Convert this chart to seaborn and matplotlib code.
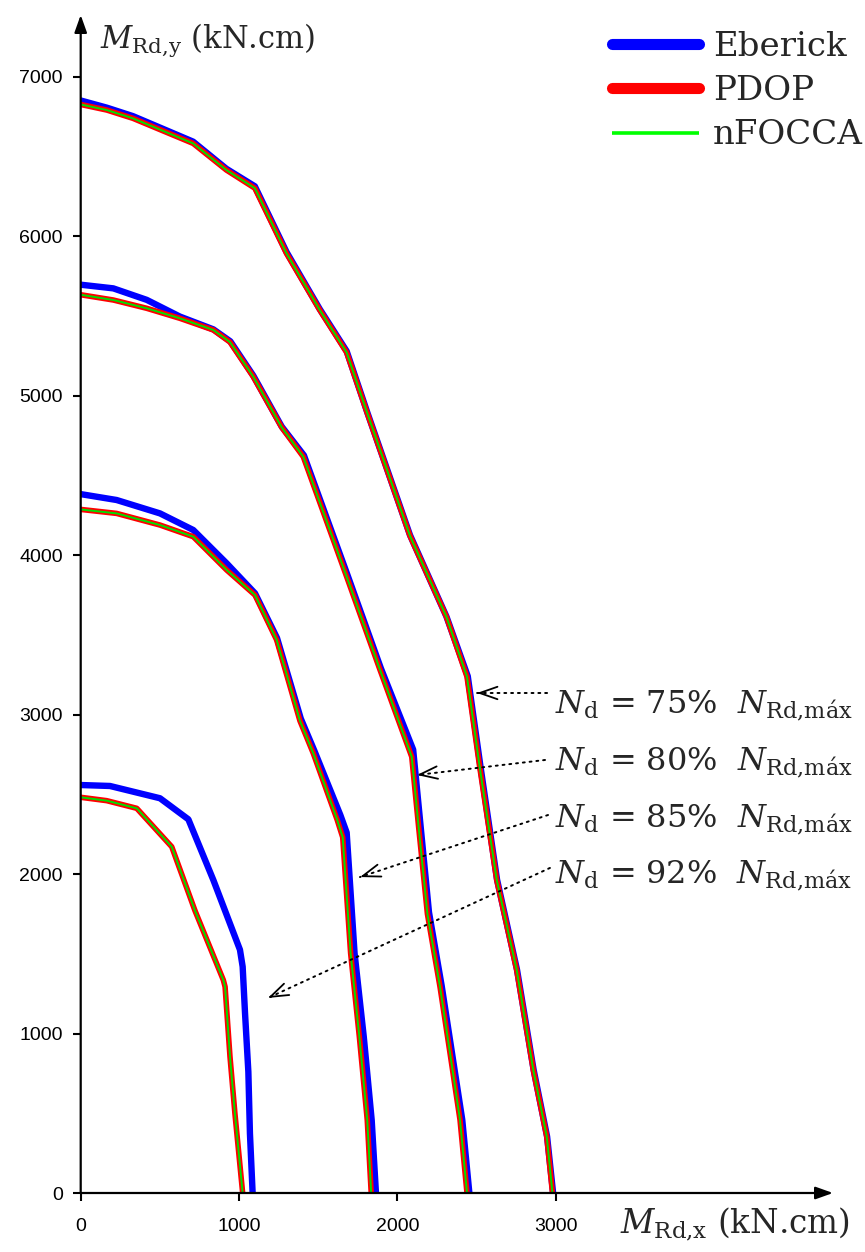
import matplotlib
matplotlib.use("Agg")
import matplotlib.pyplot as plt
from matplotlib.lines import Line2D
import numpy as np
import pandas as pd
import seaborn as sns

# ---------------- interaction curves (kN.cm) ----------------
# Nd = 75% NRd,max
eberick_75_x = [0, 165, 330, 710, 920, 1100, 1300, 1510, 1680, 1810, 2080, 2310, 2445, 2525, 2630, 2756, 2861, 2946, 2984]
eberick_75_y = [6850, 6805, 6752, 6592, 6422, 6312, 5900, 5542, 5278, 4895, 4125, 3615, 3240, 2676, 1964, 1400, 772, 354, 0]
pdop_75_x = [0, 165, 330, 710, 920, 1100, 1300, 1510, 1680, 1810, 2080, 2310, 2440, 2520, 2628, 2754, 2859, 2944, 2980]
pdop_75_y = [6825, 6790, 6738, 6581, 6414, 6300, 5891, 5536, 5270, 4890, 4120, 3613, 3237, 2673, 1962, 1398, 771, 353, 0]
nfocca_75_x = [0, 165, 330, 710, 920, 1100, 1300, 1510, 1680, 1810, 2080, 2310, 2440, 2520, 2628, 2754, 2859, 2944, 2980]
nfocca_75_y = [6825, 6790, 6738, 6581, 6414, 6300, 5891, 5536, 5270, 4890, 4120, 3613, 3237, 2673, 1962, 1398, 771, 353, 0]

# Nd = 80% NRd,max
eberick_80_x = [0, 206, 417, 627, 838, 945, 1090, 1270, 1410, 1685, 1896, 2100, 2150, 2200, 2280, 2345, 2410, 2455]
eberick_80_y = [5695, 5672, 5600, 5495, 5415, 5340, 5125, 4805, 4625, 3875, 3290, 2780, 2270, 1760, 1300, 880, 460, 0]
pdop_80_x = [0, 206, 417, 627, 838, 943, 1090, 1270, 1406, 1680, 1891, 2091, 2135, 2190, 2270, 2333, 2396, 2440]
pdop_80_y = [5632, 5599, 5547, 5484, 5411, 5335, 5118, 4800, 4616, 3864, 3279, 2735, 2290, 1750, 1290, 876, 458, 0]
nfocca_80_x = [0, 206, 417, 627, 838, 943, 1090, 1270, 1406, 1680, 1891, 2091, 2135, 2190, 2270, 2333, 2396, 2440]
nfocca_80_y = [5632, 5599, 5547, 5484, 5411, 5335, 5118, 4800, 4616, 3864, 3279, 2735, 2290, 1750, 1290, 876, 458, 0]

# Nd = 85% NRd,max
eberick_85_x = [0, 227, 501, 711, 922, 1101, 1240, 1390, 1475, 1640, 1680, 1730, 1788, 1838, 1865]
eberick_85_y = [4382, 4345, 4261, 4157, 3948, 3760, 3480, 2975, 2775, 2370, 2260, 1503, 980, 458, 0]
pdop_85_x = [0, 227, 501, 711, 922, 1101, 1238, 1385, 1469, 1620, 1655, 1705, 1760, 1810, 1835]
pdop_85_y = [4286, 4261, 4188, 4115, 3906, 3749, 3467, 2960, 2757, 2340, 2230, 1503, 980, 458, 0]
nfocca_85_x = [0, 227, 501, 711, 922, 1101, 1238, 1385, 1469, 1620, 1655, 1705, 1760, 1810, 1835]
nfocca_85_y = [4286, 4261, 4188, 4115, 3906, 3749, 3467, 2960, 2757, 2340, 2230, 1503, 980, 458, 0]

# Nd = 92% NRd,max
eberick_92_x = [0, 185, 501, 680, 838, 1006, 1023, 1038, 1059, 1069, 1086]
eberick_92_y = [2558, 2552, 2475, 2343, 1962, 1525, 1419, 1127, 760, 374, 0]
pdop_92_x = [0, 164, 354, 575, 722, 901, 912, 943, 974, 1023]
pdop_92_y = [2481, 2460, 2412, 2171, 1770, 1335, 1293, 855, 500, 0]
nfocca_92_x = [0, 164, 354, 575, 722, 901, 912, 943, 974, 1023]
nfocca_92_y = [2481, 2460, 2412, 2171, 1770, 1335, 1293, 855, 500, 0]

levels = ["75%", "80%", "85%", "92%"]
methods = ["Eberick", "PDOP", "nFOCCA"]
x_ticks = [0, 1000, 2000, 3000]
y_ticks = [0, 1000, 2000, 3000, 4000, 5000, 6000, 7000]

curves = {
    ("Eberick", "75%"): (eberick_75_x, eberick_75_y),
    ("Eberick", "80%"): (eberick_80_x, eberick_80_y),
    ("Eberick", "85%"): (eberick_85_x, eberick_85_y),
    ("Eberick", "92%"): (eberick_92_x, eberick_92_y),
    ("PDOP", "75%"): (pdop_75_x, pdop_75_y),
    ("PDOP", "80%"): (pdop_80_x, pdop_80_y),
    ("PDOP", "85%"): (pdop_85_x, pdop_85_y),
    ("PDOP", "92%"): (pdop_92_x, pdop_92_y),
    ("nFOCCA", "75%"): (nfocca_75_x, nfocca_75_y),
    ("nFOCCA", "80%"): (nfocca_80_x, nfocca_80_y),
    ("nFOCCA", "85%"): (nfocca_85_x, nfocca_85_y),
    ("nFOCCA", "92%"): (nfocca_92_x, nfocca_92_y),
}
rows = []
for (m, lv), (xs, ys) in curves.items():
    for i, (xv, yv) in enumerate(zip(xs, ys)):
        rows.append({"method": m, "level": lv, "order": i, "MRdx": xv, "MRdy": yv})
df = pd.DataFrame(rows)

# ---------------- styling ----------------
sns.set_theme(style="white")
plt.rcParams["font.family"] = ["DejaVu Serif"]
plt.rcParams["mathtext.fontset"] = "dejavuserif"

colors = {"Eberick": "#0000FF", "PDOP": "#FF0000", "nFOCCA": "#00E000"}
widths = {"Eberick": 4.6, "PDOP": 4.0, "nFOCCA": 1.4}

fig = plt.figure(figsize=(8.65, 12.52), dpi=100)
W, H = 865.0, 1252.0
x0_px, y0_px, xend_px, ytop_px = 80.7, 1193.0, 833.0, 15.0
ax = fig.add_axes([x0_px / W, (H - y0_px) / H, (xend_px - x0_px) / W, (y0_px - ytop_px) / H])

for m in methods:
    sub = df[df["method"] == m]
    sns.lineplot(data=sub, x="MRdx", y="MRdy", units="level", estimator=None,
                 sort=False, color=colors[m], lw=widths[m], ax=ax, legend=False)

ax.set_xlim(0, 4752)
ax.set_ylim(0, 7386)
ax.set_xticks(x_ticks)
ax.set_yticks(y_ticks)
ax.set_xticklabels([str(v) for v in x_ticks])
ax.set_yticklabels([str(v) for v in y_ticks])
ax.set_xlabel("")
ax.set_ylabel("")
ax.set_facecolor("white")
for s in ax.spines.values():
    s.set_visible(False)

ax.tick_params(axis="both", which="major", direction="out", length=5.8, width=1.5,
               color="black", labelcolor="black", labelsize=14, left=True, bottom=True)
ax.tick_params(axis="x", pad=12)
ax.tick_params(axis="y", pad=7)
for lab in ax.get_xticklabels() + ax.get_yticklabels():
    lab.set_fontfamily("Liberation Sans")

# axis lines with arrow heads
arrow_kw = dict(arrowstyle="-|>,head_length=0.7,head_width=0.25", color="black",
                lw=1.6, shrinkA=0, shrinkB=0, mutation_scale=15)
ax.annotate("", xy=(1, 0), xytext=(0, 0), xycoords="axes fraction",
            textcoords="axes fraction", arrowprops=arrow_kw, annotation_clip=False)
ax.annotate("", xy=(0, 1), xytext=(0, 0), xycoords="axes fraction",
            textcoords="axes fraction", arrowprops=arrow_kw, annotation_clip=False)

# axis titles
fig.text(100 / W, 1 - 48 / H, r"$M_{\mathrm{Rd{,}y}}$ (kN.cm)", fontsize=22,
         ha="left", va="baseline")
fig.text(620 / W, 1 - 1233 / H, r"$M_{\mathrm{Rd{,}x}}$ (kN.cm)", fontsize=23.5,
         ha="left", va="baseline")

# legend
handles = [
    Line2D([0], [0], color=colors["Eberick"], lw=8, solid_capstyle="round"),
    Line2D([0], [0], color=colors["PDOP"], lw=8, solid_capstyle="round"),
    Line2D([0], [0], color="#00FF00", lw=2.6, solid_capstyle="butt"),
]
fig.legend(handles, methods, loc="upper left", bbox_to_anchor=(612 / W, 1 - 31 / H),
           frameon=False, fontsize=24.5, handlelength=2.55, handletextpad=0.42,
           labelspacing=0.36, borderpad=0, borderaxespad=0)

# load level annotations
ann_text_x = 2997
ann_baseline_y = [3009, 2652, 2295, 1944]
ann_tip_x = [2503, 2124, 1764, 1183]
ann_tip_y = [3135, 2621, 1981, 1223]
ann_tail_x = [2946, 2933, 2952, 2964]
ann_tail_y = [3135, 2715, 2370, 2038]

px_per_x = (xend_px - x0_px) / 4752
px_per_y = (y0_px - ytop_px) / 7386
for lv, by, tx, ty, ex, ey in zip(levels, ann_baseline_y, ann_tip_x, ann_tip_y,
                                  ann_tail_x, ann_tail_y):
    ax.text(ann_text_x, by, r"$N_{\mathrm{d}}$ = " + lv +
            r"  $N_{\mathrm{Rd{,}máx}}$", fontsize=23, ha="left", va="baseline")
    ax.annotate("", xy=(tx, ty), xytext=(ex, ey),
                arrowprops=dict(arrowstyle="-", color="black", lw=1.4,
                                linestyle=(0, (1, 2.5)), shrinkA=0, shrinkB=0))
    dxp, dyp = (ex - tx) * px_per_x, (ey - ty) * px_per_y
    n = np.hypot(dxp, dyp)
    hx = tx + (dxp / n * 4) / px_per_x
    hy = ty + (dyp / n * 4) / px_per_y
    ax.annotate("", xy=(tx, ty), xytext=(hx, hy),
                arrowprops=dict(arrowstyle="->,head_length=0.8,head_width=0.28",
                                color="black", lw=1.3, shrinkA=0, shrinkB=0,
                                mutation_scale=16))

fig.savefig("out.png", dpi=100, facecolor="white")
